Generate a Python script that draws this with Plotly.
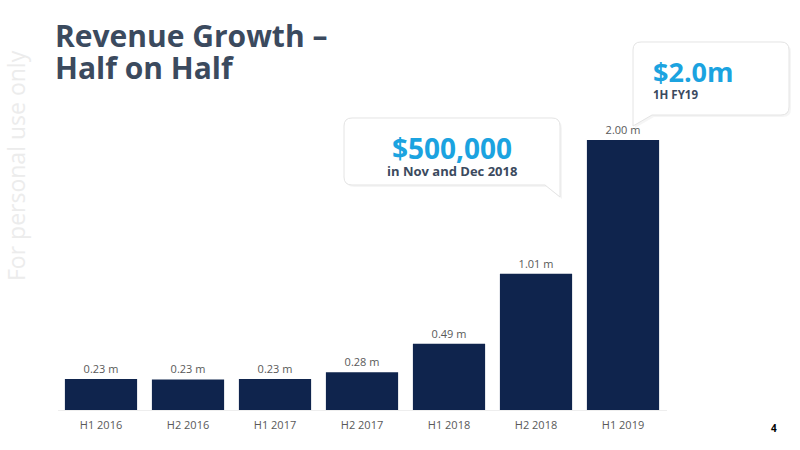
import plotly.graph_objects as go

periods = ['H1 2016', 'H2 2016', 'H1 2017', 'H2 2017', 'H1 2018', 'H2 2018', 'H1 2019']
revenue_m = [0.23, 0.226, 0.23, 0.28, 0.49, 1.01, 2.00]

W, H = 800, 450


def px(x, y):
    # pixel position on the slide -> paper coords
    return x / W, 1 - y / H


def callout_path(pts):
    out = []
    for p in pts:
        if p[0] == 'Q':
            cx, cy = px(p[1], p[2])
            ex, ey = px(p[3], p[4])
            out.append(f'Q{cx:.5f},{cy:.5f} {ex:.5f},{ey:.5f}')
        else:
            x, y = px(p[1], p[2])
            out.append(f'{p[0]}{x:.5f},{y:.5f}')
    return ' '.join(out) + ' Z'


def box_tail_right(x0, y0, x1, y1, r, tx, ty):
    # rounded box, tail hanging off the bottom-right corner
    return [('M', x0 + r, y0), ('L', x1 - r, y0), ('Q', x1, y0, x1, y0 + r),
            ('L', x1, ty), ('L', tx, y1), ('L', x0 + r, y1),
            ('Q', x0, y1, x0, y1 - r), ('L', x0, y0 + r), ('Q', x0, y0, x0 + r, y0)]


def box_tail_left(x0, y0, x1, y1, r, tx, ty):
    # rounded box, tail hanging off the bottom-left corner
    return [('M', x0 + r, y0), ('L', x1 - r, y0), ('Q', x1, y0, x1, y0 + r),
            ('L', x1, y1 - r), ('Q', x1, y1, x1 - r, y1), ('L', tx, y1),
            ('L', x0, ty), ('L', x0, y0 + r), ('Q', x0, y0, x0 + r, y0)]


fig = go.Figure()
fig.add_trace(go.Bar(
    x=periods, y=revenue_m,
    marker=dict(color='#0f244d', line=dict(width=0)),
    texttemplate='%{y:.2f} m', textposition='outside',
    textfont=dict(family='Open Sans', size=11, color='#595959'),
    cliponaxis=False,
))

shapes = []
for pts in (box_tail_right(344, 118, 560, 185, 8, 545, 197),
            box_tail_left(633, 42, 789, 115, 8, 652, 126)):
    shifted = [(p[0],) + tuple(v + 2 for v in p[1:]) for p in pts]
    shapes.append(dict(type='path', xref='paper', yref='paper', path=callout_path(shifted),
                       fillcolor='rgba(0,0,0,0.04)', line=dict(width=0), layer='below'))
    shapes.append(dict(type='path', xref='paper', yref='paper', path=callout_path(pts),
                       fillcolor='white', line=dict(color='#e4e4e4', width=1), layer='above'))

annotations = [
    dict(text='<b>Revenue Growth –</b>', x=53 / W, y=1 - 58 / H, xanchor='left', yanchor='bottom',
         font=dict(family='Open Sans', size=30, color='#3b4a5e')),
    dict(text='<b>Half on Half</b>', x=53 / W, y=1 - 90 / H, xanchor='left', yanchor='bottom',
         font=dict(family='Open Sans', size=30, color='#3b4a5e')),
    dict(text='For personal use only', x=16 / W, y=1 - 166 / H, textangle=-90,
         xanchor='center', yanchor='middle',
         font=dict(family='Open Sans', size=23, color='#ececec')),
    dict(text='<b>$500,000</b>', x=452 / W, y=1 - 148 / H, xanchor='center', yanchor='middle',
         font=dict(family='Open Sans', size=28, color='#1ba3e0')),
    dict(text='<b>in Nov and Dec 2018</b>', x=452 / W, y=1 - 171 / H, xanchor='center', yanchor='middle',
         font=dict(family='Open Sans', size=13, color='#3b4a5e')),
    dict(text='<b>$2.0m</b>', x=651 / W, y=1 - 71 / H, xanchor='left', yanchor='middle',
         font=dict(family='Open Sans', size=27, color='#1ba3e0')),
    dict(text='<b>1H FY19</b>', x=651 / W, y=1 - 94 / H, xanchor='left', yanchor='middle',
         font=dict(family='Open Sans', size=11.5, color='#3b4a5e')),
    dict(text='<b>4</b>', x=774 / W, y=1 - 428 / H, xanchor='center', yanchor='middle',
         font=dict(family='Open Sans', size=10, color='#000000')),
]
for a in annotations:
    a.update(xref='paper', yref='paper', showarrow=False)

fig.update_layout(
    width=W, height=H,
    margin=dict(l=0, r=0, t=0, b=0),
    paper_bgcolor='white', plot_bgcolor='white',
    showlegend=False, bargap=0.17,
    font=dict(family='Open Sans'),
    xaxis=dict(domain=[57.5 / W, 666.5 / W], showgrid=False, showline=True,
               linecolor='#eeeeee', ticks='', ticklabelstandoff=5,
               tickfont=dict(family='Open Sans', size=11, color='#595959')),
    yaxis=dict(domain=[40 / H, 340 / H], range=[0, 300 / 135], visible=False),
    shapes=shapes, annotations=annotations,
)

# drop the page's default body margin so the slide sits at the window corner
fig.write_html('out.html', config={'displayModeBar': False},
               post_script="document.body.style.margin='0';")
